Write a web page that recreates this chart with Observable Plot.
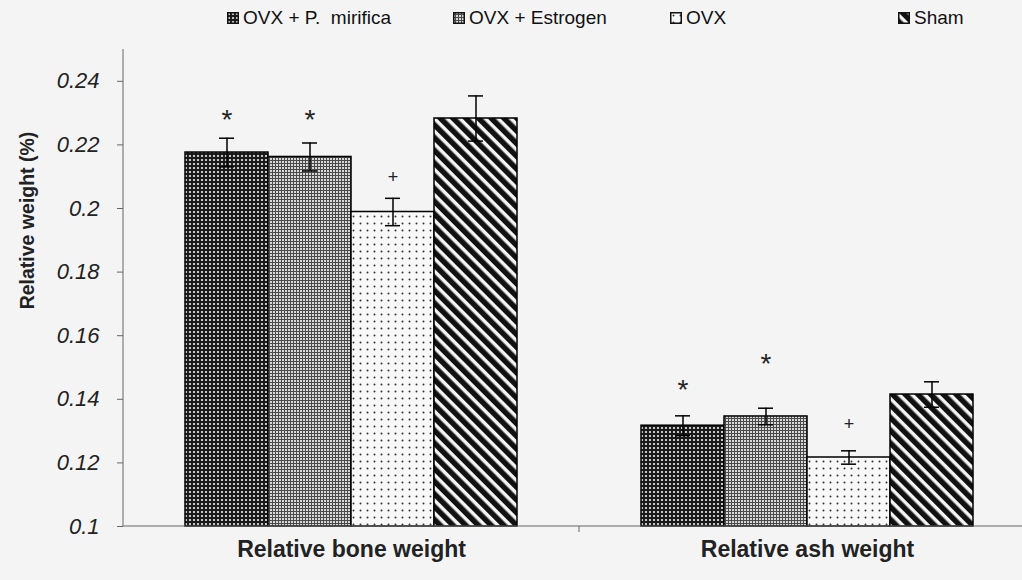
<!DOCTYPE html>
<html><head><meta charset="utf-8">
<script src="https://cdn.jsdelivr.net/npm/d3@7"></script>
<script src="https://cdn.jsdelivr.net/npm/@observablehq/plot@0.6"></script>
<style>
html,body{margin:0;padding:0;background:#f4f4f4;}
body{width:1022px;height:580px;overflow:hidden;font-family:"Liberation Sans",Arial,sans-serif;}
#legend{position:relative;height:38px;}
.item{position:absolute;top:7px;font-size:19px;line-height:22px;color:#111;white-space:pre;display:flex;align-items:center;}
.item svg{margin-right:4px;display:block;}
#chart svg{display:block;}
g[aria-label^="y-axis"] text{font-style:italic !important;font-size:22px !important;fill:#222;}
g[aria-label^="y-axis"] path, g[aria-label^="y-axis"] line{stroke:#666;}
g[aria-label^="fx-axis"] text{font-weight:bold !important;font-size:23px !important;fill:#222;}
</style></head><body>
<div id="legend"></div>
<div id="chart"></div>
<script>
// ---- data ----
const categories = ["Relative bone weight", "Relative ash weight"];
const series = ["OVX + P.  mirifica", "OVX + Estrogen", "OVX", "Sham"];
const boneMeans = [0.2176, 0.2162, 0.1989, 0.2283];
const boneErrors = [0.0045, 0.0044, 0.0043, 0.0071];
const ashMeans = [0.1317, 0.1346, 0.1217, 0.1415];
const ashErrors = [0.0031, 0.0026, 0.0021, 0.0040];
const boneSignif = ["*", "*", "+", ""];
const boneSignifAt = [0.2299, 0.2299, 0.2098, null];
const ashSignif = ["*", "*", "+", ""];
const ashSignifAt = [0.1450, 0.1532, 0.1323, null];
const yDomain = [0.1, 0.25];
const yTicks = [0.1, 0.12, 0.14, 0.16, 0.18, 0.2, 0.22, 0.24];
const yTickLabels = ["0.1", "0.12", "0.14", "0.16", "0.18", "0.2", "0.22", "0.24"];
const yLabel = "Relative weight (%)";

// ---- styles ----
const patternIds = ["pat-mirifica", "pat-estrogen", "pat-ovx", "pat-sham"];
const legendLeft = [227, 453, 670, 898];

const meansBy = [boneMeans, ashMeans];
const errorsBy = [boneErrors, ashErrors];
const signifBy = [boneSignif, ashSignif];
const signifAtBy = [boneSignifAt, ashSignifAt];
const table = [];
categories.forEach((c, ci) => series.forEach((s, si) => {
  const m = meansBy[ci][si], e = errorsBy[ci][si];
  table.push({category: c, series: s, base: yDomain[0], value: m, lo: m - e, hi: m + e,
    signif: signifBy[ci][si], signifAt: signifAtBy[ci][si], fill: `url(#${patternIds[si]})`});
}));

const plot = Plot.plot({
  width: 1022, height: 542,
  marginTop: 11, marginBottom: 54, marginLeft: 123, marginRight: 0,
  style: {background: "transparent", fontFamily: "'Liberation Sans', Arial, sans-serif", fontSize: "20px", color: "#222"},
  facet: {data: table, x: "category"},
  fx: {domain: categories, range: [123, 1035], padding: 0, axis: "bottom", label: null, tickSize: 0, tickPadding: 14},
  x: {domain: series, paddingInner: 0, paddingOuter: 0.745, axis: null},
  y: {domain: yDomain, ticks: yTicks, tickFormat: d => yTickLabels[yTicks.indexOf(d)], tickSize: 6, tickPadding: 18, label: null},
  color: {type: "identity"},
  marks: [
    Plot.barY(table, {x: "series", y1: "base", y2: "value", fill: "fill", stroke: "#000", strokeWidth: 1.5}),
    Plot.ruleX(table, {x: "series", y1: "lo", y2: "hi", stroke: "#000", strokeWidth: 1.5}),
    Plot.tickY(table, {x: "series", y: "hi", insetLeft: 34, insetRight: 34, stroke: "#000", strokeWidth: 1.5}),
    Plot.tickY(table, {x: "series", y: "lo", insetLeft: 34, insetRight: 34, stroke: "#000", strokeWidth: 1.5}),
    Plot.text(table, {filter: d => d.signif === "*", x: "series", y: "signifAt", text: "signif", fontSize: 28, dy: 7, fill: "#222"}),
    Plot.text(table, {filter: d => d.signif === "+", x: "series", y: "signifAt", text: "signif", fontSize: 18, fill: "#222"})
  ]
});
document.getElementById("chart").appendChild(plot);

// ---- patterns ----
const svg = d3.select(plot);
const defs = svg.insert("defs", ":first-child");
let p = defs.append("pattern").attr("id", patternIds[0]).attr("patternUnits", "userSpaceOnUse").attr("width", 4).attr("height", 4);
p.append("rect").attr("width", 4).attr("height", 4).attr("fill", "#1a1a1a");
p.append("circle").attr("cx", 2).attr("cy", 2).attr("r", 1.1).attr("fill", "#f0f0f0");
p = defs.append("pattern").attr("id", patternIds[1]).attr("patternUnits", "userSpaceOnUse").attr("width", 3).attr("height", 3);
p.append("rect").attr("width", 3).attr("height", 3).attr("fill", "#4a4a4a");
p.append("rect").attr("width", 2).attr("height", 2).attr("fill", "#d8d8d8");
p = defs.append("pattern").attr("id", patternIds[2]).attr("patternUnits", "userSpaceOnUse").attr("width", 7).attr("height", 7);
p.append("rect").attr("width", 7).attr("height", 7).attr("fill", "#f8f8f8");
p.append("circle").attr("cx", 3.5).attr("cy", 3.5).attr("r", 1).attr("fill", "#333");
p = defs.append("pattern").attr("id", patternIds[3]).attr("patternUnits", "userSpaceOnUse").attr("width", 9).attr("height", 9).attr("patternTransform", "rotate(-45)");
p.append("rect").attr("width", 9).attr("height", 9).attr("fill", "#f4f4f4");
p.append("rect").attr("width", 5.5).attr("height", 9).attr("fill", "#111");

// ---- axis lines from Plot scales ----
const ys = plot.scale("y"), fxs = plot.scale("fx");
const yb = ys.apply(yDomain[0]), yt = ys.apply(yDomain[1]);
const xL = fxs.range[0], xR = fxs.range[1];
const axes = svg.append("g").attr("stroke", "#666").attr("stroke-width", 1);
axes.append("line").attr("x1", xL).attr("x2", xL).attr("y1", yb).attr("y2", yt);
axes.append("line").attr("x1", xL).attr("x2", xR).attr("y1", yb).attr("y2", yb);
categories.slice(1).forEach(c => {
  const xb = fxs.apply(c);
  axes.append("line").attr("x1", xb).attr("x2", xb).attr("y1", yb).attr("y2", yb + 6);
});
svg.append("text")
  .attr("transform", `translate(${xL - 96},${(yb + yt) / 2 - 67}) rotate(-90)`)
  .attr("text-anchor", "middle").attr("dy", "0.35em")
  .attr("font-weight", "bold").attr("font-size", 19.5).attr("fill", "#222")
  .text(yLabel);

// ---- legend ----
const legend = d3.select("#legend");
series.forEach((s, i) => {
  const it = legend.append("div").attr("class", "item").style("left", legendLeft[i] + "px");
  const sw = it.append("svg").attr("width", 12).attr("height", 12);
  sw.append("rect").attr("x", 0.75).attr("y", 0.75).attr("width", 10.5).attr("height", 10.5)
    .attr("fill", `url(#${patternIds[i]})`).attr("stroke", "#111").attr("stroke-width", 1.5);
  it.append("span").text(s);
});
</script>
</body></html>
